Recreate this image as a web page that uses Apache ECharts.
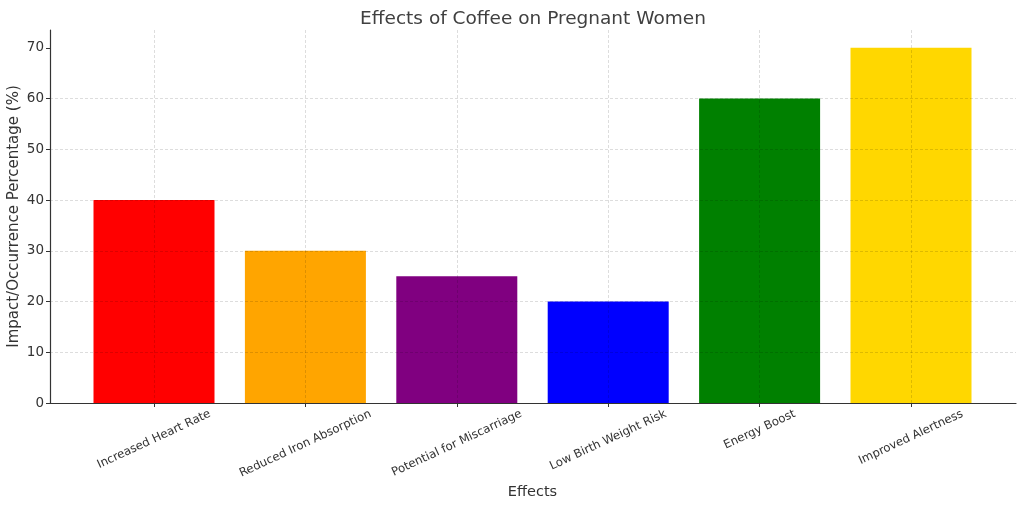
<!DOCTYPE html>
<html>
<head>
<meta charset="utf-8">
<script src="https://cdn.jsdelivr.net/npm/echarts@6/dist/echarts.min.js"></script>
<style>html,body{margin:0;padding:0;background:#fff}#c{width:1024px;height:508px}</style>
</head>
<body>
<div id="c"></div>
<script>
const categories = ['Increased Heart Rate', 'Reduced Iron Absorption', 'Potential for Miscarriage', 'Low Birth Weight Risk', 'Energy Boost', 'Improved Alertness'];
const values = [40, 30, 25, 20, 60, 70];
const barColors = ['#ff0000', '#ffa500', '#800080', '#0000ff', '#008000', '#ffd700'];
const yTicks = [0, 10, 20, 30, 40, 50, 60, 70];

const FONT = 'DejaVu Sans';
const XF = 11.7;
const ANG = 25 * Math.PI / 180;

const ctx = document.createElement('canvas').getContext('2d');
ctx.font = XF + 'px "' + FONT + '"';
const rich = {};
categories.forEach((c, i) => {
  const w = ctx.measureText(c).width;
  const d = w * Math.sin(ANG) / 2;
  rich['l' + i] = {
    fontFamily: FONT, fontSize: XF, color: '#333',
    padding: [2 * d * Math.cos(ANG), 2 * d * Math.sin(ANG), 0, 0]
  };
});
const baseMargin = 5 + XF * Math.cos(ANG) / 2;

const chart = echarts.init(document.getElementById('c'), null, {renderer: 'canvas'});
const gridLine = {show: true, lineStyle: {color: 'rgba(0,0,0,0.17)', type: [3, 2], width: 0.8}};
chart.setOption({
  animation: false,
  backgroundColor: '#fff',
  title: {
    text: 'Effects of Coffee on Pregnant Women',
    left: 528, top: 5, textAlign: 'center',
    textStyle: {fontFamily: FONT, fontSize: 18.5, fontWeight: 'normal', color: '#404040'}
  },
  grid: [
    {left: 50, right: 8, top: 30, bottom: 105, outerBoundsMode: 'none', containLabel: false},
    {left: 154, right: 113, top: 30, bottom: 105, outerBoundsMode: 'none', containLabel: false}
  ],
  xAxis: [
    {gridIndex: 0, type: 'value', min: 0, max: 1, z: 10,
     axisLine: {show: true, lineStyle: {color: '#333', width: 1.2}},
     axisTick: {show: false}, axisLabel: {show: false}, splitLine: {show: false}},
    {gridIndex: 1, type: 'category', data: categories, boundaryGap: false, z: 10,
     name: 'Effects', nameLocation: 'middle', nameGap: 82, nameMoveOverlap: false,
     nameTextStyle: {fontFamily: FONT, fontSize: 14.5, color: '#333'},
     axisLine: {show: false},
     axisTick: {show: true, length: 4, lineStyle: {color: '#333'}},
     axisLabel: {rotate: 25, align: 'center', verticalAlign: 'middle', margin: baseMargin, interval: 0,
       fontFamily: FONT, fontSize: XF, color: '#333', rich: rich,
       formatter: (v, i) => '{l' + i + '|' + v + '}'},
     splitLine: gridLine}
  ],
  yAxis: [
    {gridIndex: 0, type: 'value', min: 0, max: 73.5, interval: 10, z: 10,
     name: 'Impact/Occurrence Percentage (%)', nameLocation: 'middle', nameGap: 28, nameMoveOverlap: false,
     nameTextStyle: {fontFamily: FONT, fontSize: 15, color: '#333'},
     axisLine: {show: true, onZero: false, lineStyle: {color: '#333', width: 1.2}},
     axisTick: {show: true, length: 4, lineStyle: {color: '#333'}, customValues: yTicks},
     axisLabel: {fontFamily: FONT, fontSize: 13.5, color: '#333', margin: 6,
       customValues: yTicks,
       formatter: v => (yTicks.includes(v) ? String(v) : '')},
     splitLine: Object.assign({showMaxLine: false}, gridLine)},
    {gridIndex: 1, type: 'value', min: 0, max: 73.5, show: false, splitLine: {show: false}}
  ],
  series: [{
    type: 'bar', xAxisIndex: 1, yAxisIndex: 1,
    data: values.map((v, i) => ({value: v, itemStyle: {color: barColors[i]}})),
    barWidth: 121, clip: false, z: 2
  }]
});
</script>
</body>
</html>
